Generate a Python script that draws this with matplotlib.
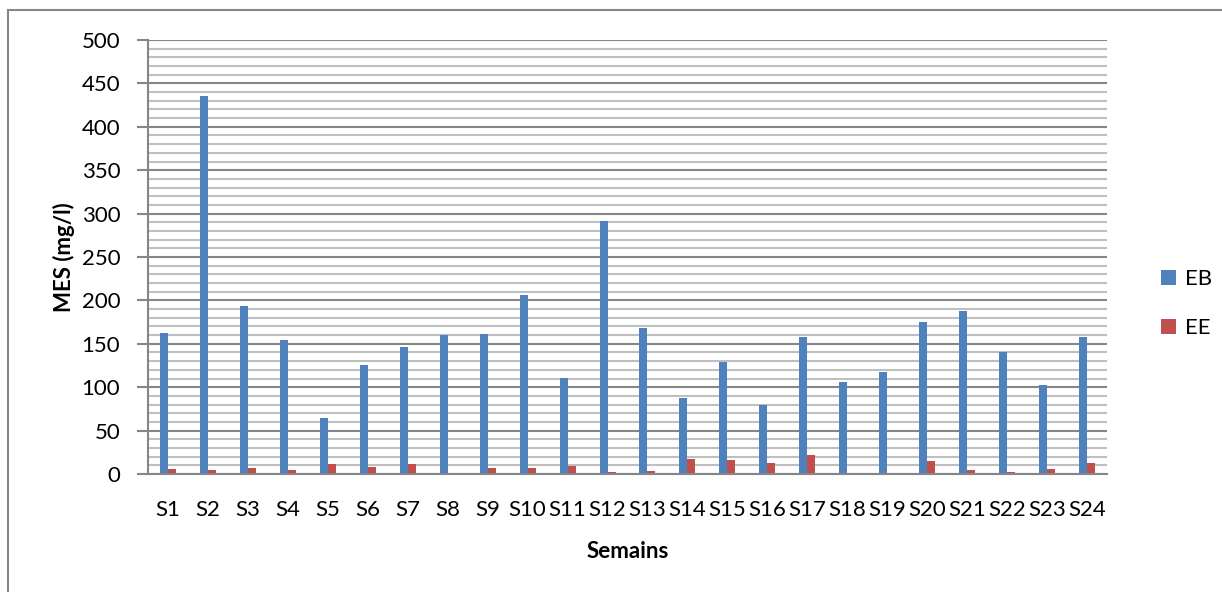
import numpy as np
import matplotlib.pyplot as plt
from matplotlib.patches import Rectangle

# weeks and MES values (mg/l)
weeks = ['S%d' % i for i in range(1, 25)]
eb = [162, 436, 193, 154, 64, 126, 146, 160, 161, 206, 111, 292,
      168, 88, 129, 80, 158, 106, 118, 175, 188, 140, 102, 158]
ee = [6, 5, 7, 5, 12, 8, 11, 1, 7, 7, 9, 2,
      3, 17, 16, 13, 22, 1, 1, 15, 5, 2, 6, 13]

plt.rcParams['font.family'] = ['Lato', 'DejaVu Sans']

fig = plt.figure(figsize=(12.22, 5.92), dpi=100)
ax = fig.add_axes([148 / 1222, 1 - 474 / 592, (1107 - 148) / 1222, (474 - 40) / 592])

# outer chart border (only top and left visible)
fig.patches.append(Rectangle((8 / 1222, -0.1), 1.2, 1 - 10 / 592 + 0.1,
                             transform=fig.transFigure, fill=False,
                             edgecolor='#868686', linewidth=1.5))

x = np.arange(len(weeks))
w = 0.2
ax.bar(x - w / 2, eb, w, color='#4F81BD', label='EB')
ax.bar(x + w / 2, ee, w, color='#C0504D', label='EE')

ax.set_xlim(-0.5, len(weeks) - 0.5)
ax.set_ylim(0, 500)
ax.set_yticks(np.arange(0, 501, 50))
ax.set_yticks(np.arange(0, 501, 10), minor=True)
ax.yaxis.grid(True, which='major', color='#868686', linewidth=1.5)
ax.yaxis.grid(True, which='minor', color='#BFBFBF', linewidth=1.5)
ax.set_axisbelow(True)

ax.set_xticks(x)
ax.set_xticklabels(weeks, fontsize=16)
ax.tick_params(axis='x', length=0, pad=19)
ax.tick_params(axis='y', which='major', length=8, width=1.5, color='#868686',
               labelsize=16, pad=12)
ax.tick_params(axis='y', which='minor', length=0)

for s in ['top', 'right']:
    ax.spines[s].set_visible(False)
for s in ['left', 'bottom']:
    ax.spines[s].set_color('#868686')
    ax.spines[s].set_linewidth(1.5)

ax.set_ylabel('MES (mg/l)', fontsize=16, fontweight='bold', labelpad=5)
ax.set_xlabel('Semains', fontsize=16, fontweight='bold', labelpad=15)

ax.legend(loc='center left', bbox_to_anchor=(1.035, 0.392), frameon=False,
          fontsize=16, handlelength=0.68, handleheight=0.68, labelspacing=1.3,
          handletextpad=0.4)

fig.savefig('out.png', dpi=100)
